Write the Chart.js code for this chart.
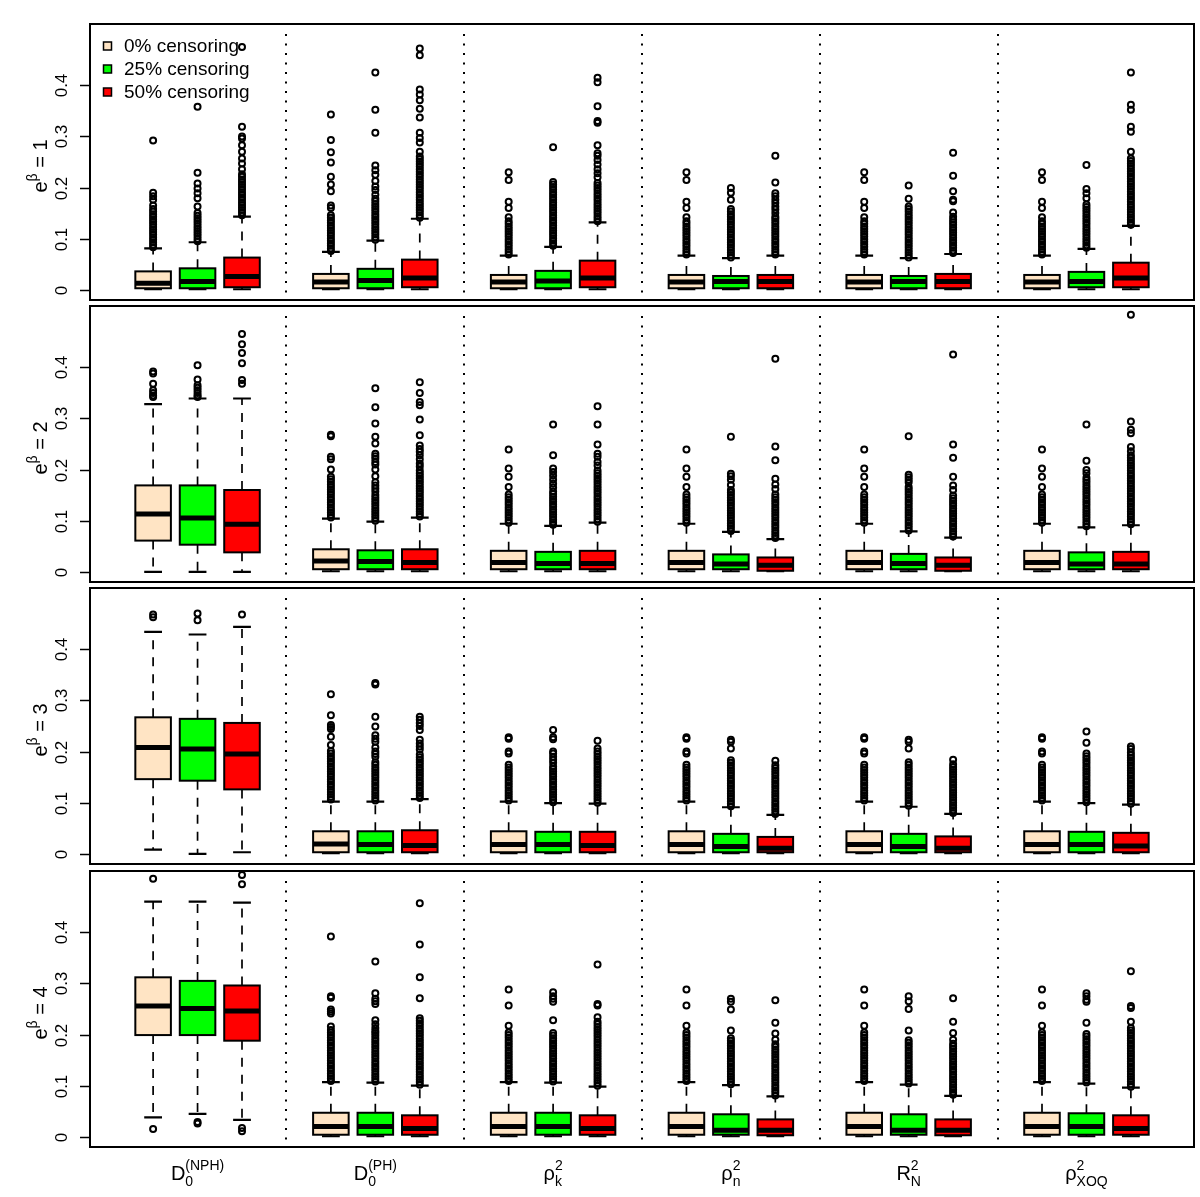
<!DOCTYPE html>
<html>
<head>
<meta charset="utf-8">
<script src="https://cdn.jsdelivr.net/npm/chart.js@4.4.1/dist/chart.umd.min.js"></script>
<style>
  html, body { margin: 0; padding: 0; background: #fff; }
  #wrap { position: relative; width: 1200px; height: 1197px; overflow: hidden; background: #fff; }
  #wrap canvas { position: absolute; left: 0; }
</style>
</head>
<body>
<div id="wrap">
  <canvas id="panel0"></canvas>
  <canvas id="panel1"></canvas>
  <canvas id="panel2"></canvas>
  <canvas id="panel3"></canvas>
</div>
<script>
// categories and series
const levels = ['0% censoring', '25% censoring', '50% censoring'];
const methodLabels = [
  { main: 'D', sub: '0', sup: '(NPH)' },
  { main: 'D', sub: '0', sup: '(PH)' },
  { main: 'ρ', sub: 'k', sup: '2' },
  { main: 'ρ', sub: 'n', sup: '2' },
  { main: 'R', sub: 'N', sup: '2' },
  { main: 'ρ', sub: 'XOQ', sup: '2' }
];
const panelValues = ['1', '2', '3', '4'];   // e^beta of each panel
const positions = [1, 2, 3, 5, 6, 7, 9, 10, 11, 13, 14, 15, 17, 18, 19, 21, 22, 23];
const separators = [4, 8, 12, 16, 20];
const yTicks = [0, 0.1, 0.2, 0.3, 0.4];
const yTickLabels = ['0', '0.1', '0.2', '0.3', '0.4'];

// boxes: [lower whisker, Q1, median, Q3, upper whisker]
// e^beta = 1
const same0_1 = [0.069,0.074,0.079,0.084,0.089,0.094,0.099,0.104,0.109,0.114,0.119,0.124,0.129,0.134,0.142,0.16,0.172,0.215,0.23];
const boxes1 = [
  [0.001,0.003,0.013,0.036,0.081],[0.001,0.003,0.016,0.042,0.093],[0.001,0.005,0.026,0.063,0.143],
  [0.001,0.003,0.015,0.031,0.074],[0.001,0.003,0.018,0.041,0.096],[0.001,0.005,0.023,0.059,0.139],
  [0.001,0.003,0.015,0.029,0.067],[0.001,0.003,0.017,0.037,0.084],[0.001,0.005,0.023,0.057,0.132],
  [0.001,0.003,0.015,0.029,0.067],[0.001,0.003,0.016,0.027,0.062],[0.001,0.003,0.016,0.029,0.067],
  [0.001,0.003,0.015,0.029,0.067],[0.001,0.003,0.016,0.027,0.062],[0.001,0.003,0.016,0.031,0.070],
  [0.001,0.003,0.015,0.029,0.067],[0.001,0.005,0.016,0.035,0.080],[0.001,0.005,0.023,0.053,0.125]
];
const outliers1 = [
  [0.083,0.088,0.093,0.098,0.103,0.108,0.113,0.118,0.123,0.128,0.133,0.138,0.143,0.148,0.153,0.158,0.165,0.176,0.183,0.19,0.292],
  [0.095,0.1,0.105,0.11,0.115,0.12,0.125,0.13,0.135,0.14,0.145,0.15,0.163,0.179,0.189,0.198,0.208,0.229,0.358],
  [0.146,0.151,0.156,0.161,0.166,0.171,0.176,0.181,0.186,0.191,0.196,0.201,0.206,0.211,0.216,0.221,0.226,0.236,0.247,0.257,0.27,0.283,0.296,0.3,0.319,0.475],
  [0.076,0.081,0.086,0.091,0.096,0.101,0.106,0.111,0.116,0.121,0.126,0.131,0.136,0.141,0.146,0.16,0.165,0.193,0.206,0.221,0.249,0.269,0.293,0.343],
  [0.098,0.103,0.108,0.113,0.118,0.123,0.128,0.133,0.138,0.143,0.148,0.153,0.158,0.163,0.168,0.173,0.178,0.186,0.195,0.202,0.213,0.225,0.234,0.243,0.307,0.352,0.425],
  [0.141,0.146,0.151,0.156,0.161,0.166,0.171,0.176,0.181,0.186,0.191,0.196,0.201,0.206,0.211,0.216,0.221,0.226,0.231,0.236,0.241,0.246,0.251,0.256,0.261,0.27,0.288,0.297,0.307,0.337,0.354,0.371,0.382,0.392,0.459,0.472],
  same0_1,
  [0.086,0.091,0.096,0.101,0.106,0.111,0.116,0.121,0.126,0.131,0.136,0.141,0.146,0.151,0.156,0.161,0.166,0.171,0.176,0.181,0.186,0.191,0.196,0.201,0.206,0.211,0.279],
  [0.134,0.139,0.144,0.149,0.154,0.159,0.164,0.169,0.174,0.179,0.184,0.189,0.194,0.199,0.204,0.209,0.22,0.228,0.236,0.245,0.254,0.262,0.267,0.283,0.327,0.33,0.359,0.406,0.415],
  same0_1,
  [0.063,0.068,0.073,0.078,0.083,0.088,0.093,0.098,0.103,0.108,0.113,0.118,0.123,0.128,0.133,0.138,0.143,0.148,0.153,0.158,0.176,0.19,0.199],
  [0.069,0.074,0.079,0.084,0.089,0.094,0.099,0.104,0.109,0.114,0.119,0.124,0.129,0.134,0.139,0.143,0.15,0.157,0.163,0.17,0.176,0.183,0.189,0.21,0.262],
  same0_1,
  [0.063,0.068,0.073,0.078,0.083,0.088,0.093,0.098,0.103,0.108,0.113,0.118,0.123,0.128,0.133,0.138,0.143,0.148,0.153,0.158,0.163,0.178,0.204],
  [0.072,0.077,0.082,0.087,0.092,0.097,0.102,0.107,0.112,0.117,0.122,0.127,0.132,0.137,0.143,0.151,0.173,0.176,0.193,0.223,0.268],
  same0_1,
  [0.082,0.087,0.092,0.097,0.102,0.107,0.112,0.117,0.122,0.127,0.132,0.137,0.142,0.147,0.152,0.157,0.162,0.167,0.179,0.189,0.197,0.244],
  [0.127,0.132,0.137,0.142,0.147,0.152,0.157,0.162,0.167,0.172,0.177,0.182,0.187,0.192,0.197,0.202,0.207,0.212,0.217,0.222,0.227,0.232,0.237,0.242,0.247,0.252,0.257,0.27,0.309,0.319,0.352,0.362,0.425]
];

// e^beta = 2
const same0_2 = [0.096,0.101,0.106,0.111,0.116,0.121,0.126,0.131,0.136,0.141,0.146,0.151,0.166,0.186,0.202,0.239];
const boxes2 = [
  [0.0,0.061,0.113,0.169,0.328],[0.0,0.053,0.105,0.169,0.339],[0.0,0.038,0.093,0.16,0.339],
  [0.001,0.005,0.021,0.044,0.104],[0.001,0.005,0.02,0.042,0.098],[0.001,0.005,0.018,0.044,0.106],
  [0.001,0.005,0.018,0.041,0.094],[0.001,0.005,0.016,0.039,0.09],[0.001,0.005,0.016,0.041,0.096],
  [0.001,0.005,0.018,0.041,0.094],[0.001,0.005,0.015,0.034,0.078],[0.001,0.002,0.013,0.028,0.064],
  [0.001,0.005,0.018,0.041,0.094],[0.001,0.005,0.016,0.035,0.079],[0.001,0.002,0.013,0.028,0.067],
  [0.001,0.005,0.018,0.041,0.094],[0.001,0.005,0.015,0.038,0.087],[0.001,0.005,0.015,0.039,0.091]
];
const outliers2 = [
  [0.342,0.345,0.35,0.355,0.368,0.388,0.392],
  [0.342,0.345,0.35,0.355,0.36,0.365,0.376,0.404],
  [0.368,0.375,0.408,0.428,0.445,0.465],
  [0.106,0.111,0.116,0.121,0.126,0.131,0.136,0.141,0.146,0.151,0.156,0.161,0.166,0.171,0.176,0.181,0.186,0.2,0.22,0.225,0.265,0.268],
  [0.1,0.105,0.11,0.115,0.12,0.125,0.13,0.135,0.14,0.145,0.15,0.157,0.163,0.169,0.175,0.187,0.2,0.21,0.215,0.221,0.226,0.231,0.251,0.264,0.29,0.322,0.359],
  [0.108,0.113,0.118,0.123,0.128,0.133,0.138,0.143,0.148,0.153,0.158,0.163,0.168,0.173,0.178,0.183,0.188,0.193,0.198,0.206,0.212,0.22,0.228,0.235,0.24,0.247,0.267,0.298,0.326,0.332,0.35,0.371],
  same0_2,
  [0.092,0.097,0.102,0.107,0.112,0.117,0.122,0.127,0.132,0.137,0.142,0.147,0.152,0.157,0.165,0.172,0.18,0.188,0.195,0.202,0.228,0.288],
  [0.098,0.103,0.108,0.113,0.118,0.123,0.128,0.133,0.138,0.143,0.148,0.153,0.158,0.163,0.168,0.173,0.178,0.183,0.188,0.193,0.198,0.208,0.215,0.225,0.231,0.249,0.288,0.324],
  same0_2,
  [0.08,0.085,0.09,0.095,0.1,0.105,0.11,0.115,0.12,0.125,0.13,0.135,0.14,0.145,0.15,0.155,0.16,0.17,0.18,0.187,0.192,0.264],
  [0.066,0.071,0.076,0.081,0.086,0.091,0.096,0.101,0.106,0.111,0.116,0.121,0.126,0.131,0.136,0.141,0.146,0.151,0.162,0.171,0.182,0.218,0.245,0.417],
  same0_2,
  [0.081,0.086,0.091,0.096,0.101,0.106,0.111,0.116,0.121,0.126,0.131,0.136,0.141,0.146,0.151,0.156,0.161,0.166,0.175,0.18,0.185,0.19,0.265],
  [0.069,0.074,0.079,0.084,0.089,0.094,0.099,0.104,0.109,0.114,0.119,0.124,0.129,0.134,0.139,0.144,0.149,0.16,0.169,0.186,0.223,0.249,0.425],
  same0_2,
  [0.089,0.094,0.099,0.104,0.109,0.114,0.119,0.124,0.129,0.134,0.139,0.144,0.149,0.154,0.159,0.164,0.169,0.174,0.179,0.184,0.193,0.199,0.217,0.288],
  [0.093,0.098,0.103,0.108,0.113,0.118,0.123,0.128,0.133,0.138,0.143,0.148,0.153,0.158,0.163,0.168,0.173,0.178,0.183,0.188,0.193,0.198,0.203,0.208,0.213,0.218,0.223,0.228,0.236,0.244,0.271,0.278,0.294,0.503]
];

// e^beta = 3
const same0_3 = [0.104,0.109,0.114,0.119,0.124,0.129,0.134,0.139,0.144,0.149,0.154,0.159,0.164,0.169,0.174,0.196,0.2,0.225,0.228];
const boxes3 = [
  [0.008,0.146,0.208,0.267,0.434],[0.0,0.143,0.205,0.264,0.429],[0.003,0.126,0.195,0.256,0.444],
  [0.001,0.003,0.019,0.044,0.102],[0.001,0.003,0.018,0.044,0.102],[0.001,0.003,0.016,0.046,0.107],
  [0.001,0.003,0.018,0.044,0.102],[0.001,0.003,0.018,0.043,0.099],[0.001,0.003,0.016,0.043,0.098],
  [0.001,0.003,0.018,0.044,0.102],[0.001,0.003,0.014,0.039,0.091],[0.001,0.003,0.011,0.033,0.076],
  [0.001,0.003,0.018,0.044,0.102],[0.001,0.003,0.014,0.039,0.092],[0.001,0.003,0.011,0.034,0.078],
  [0.001,0.003,0.018,0.044,0.102],[0.001,0.003,0.018,0.043,0.099],[0.001,0.003,0.015,0.041,0.096]
];
const outliers3 = [
  [0.463,0.468],
  [0.457,0.47],
  [0.468],
  [0.106,0.111,0.116,0.121,0.126,0.131,0.136,0.141,0.146,0.151,0.156,0.161,0.166,0.171,0.176,0.181,0.186,0.191,0.196,0.201,0.213,0.229,0.244,0.248,0.252,0.271,0.312],
  [0.104,0.109,0.114,0.119,0.124,0.129,0.134,0.139,0.144,0.149,0.154,0.159,0.164,0.169,0.174,0.179,0.19,0.195,0.2,0.208,0.219,0.225,0.232,0.249,0.268,0.331,0.334],
  [0.109,0.114,0.119,0.124,0.129,0.134,0.139,0.144,0.149,0.154,0.159,0.164,0.169,0.174,0.179,0.184,0.189,0.194,0.204,0.21,0.216,0.223,0.242,0.25,0.256,0.262,0.268],
  same0_3,
  [0.101,0.106,0.111,0.116,0.121,0.126,0.131,0.136,0.141,0.146,0.151,0.156,0.161,0.166,0.171,0.178,0.184,0.19,0.196,0.2,0.224,0.228,0.242],
  [0.1,0.105,0.11,0.115,0.12,0.125,0.13,0.135,0.14,0.145,0.15,0.155,0.16,0.165,0.17,0.175,0.18,0.185,0.19,0.195,0.2,0.206,0.221],
  same0_3,
  [0.093,0.098,0.103,0.108,0.113,0.118,0.123,0.128,0.133,0.138,0.143,0.148,0.153,0.158,0.163,0.168,0.173,0.178,0.183,0.206,0.219,0.223],
  [0.078,0.083,0.088,0.093,0.098,0.103,0.108,0.113,0.118,0.123,0.128,0.133,0.138,0.143,0.148,0.153,0.158,0.163,0.168,0.173,0.182],
  same0_3,
  [0.094,0.099,0.104,0.109,0.114,0.119,0.124,0.129,0.134,0.139,0.144,0.149,0.154,0.159,0.164,0.169,0.174,0.179,0.206,0.219,0.223],
  [0.08,0.085,0.09,0.095,0.1,0.105,0.11,0.115,0.12,0.125,0.13,0.135,0.14,0.145,0.15,0.155,0.16,0.165,0.17,0.175,0.184],
  same0_3,
  [0.101,0.106,0.111,0.116,0.121,0.126,0.131,0.136,0.141,0.146,0.151,0.156,0.161,0.166,0.171,0.176,0.181,0.186,0.191,0.196,0.217,0.239],
  [0.098,0.103,0.108,0.113,0.118,0.123,0.128,0.133,0.138,0.143,0.148,0.153,0.158,0.163,0.168,0.173,0.178,0.183,0.188,0.193,0.198,0.205,0.21]
];

// e^beta = 4
const same0_4 = [0.109,0.114,0.119,0.124,0.129,0.134,0.139,0.144,0.149,0.154,0.159,0.164,0.169,0.174,0.179,0.184,0.189,0.194,0.199,0.204,0.217,0.257,0.288];
const boxes4 = [
  [0.038,0.199,0.256,0.312,0.46],[0.045,0.199,0.251,0.305,0.46],[0.033,0.188,0.246,0.296,0.458],
  [0.001,0.004,0.02,0.047,0.107],[0.001,0.004,0.02,0.047,0.106],[0.001,0.004,0.016,0.042,0.1],
  [0.001,0.004,0.02,0.047,0.107],[0.001,0.004,0.02,0.047,0.106],[0.001,0.004,0.016,0.042,0.098],
  [0.001,0.004,0.02,0.047,0.107],[0.001,0.004,0.013,0.044,0.101],[0.001,0.003,0.013,0.034,0.079],
  [0.001,0.004,0.02,0.047,0.107],[0.001,0.004,0.013,0.044,0.102],[0.001,0.003,0.013,0.034,0.08],
  [0.001,0.004,0.02,0.047,0.107],[0.001,0.004,0.02,0.046,0.104],[0.001,0.004,0.016,0.042,0.096]
];
const outliers4 = [
  [0.015,0.505],
  [0.026,0.029],
  [0.011,0.017,0.494,0.512],
  [0.109,0.114,0.119,0.124,0.129,0.134,0.139,0.144,0.149,0.154,0.159,0.164,0.169,0.174,0.179,0.184,0.189,0.194,0.199,0.204,0.209,0.216,0.241,0.245,0.249,0.272,0.275,0.392],
  [0.108,0.113,0.118,0.123,0.128,0.133,0.138,0.143,0.148,0.153,0.158,0.163,0.168,0.173,0.178,0.183,0.188,0.193,0.198,0.203,0.207,0.213,0.22,0.228,0.26,0.265,0.27,0.281,0.343],
  [0.102,0.107,0.112,0.117,0.122,0.127,0.132,0.137,0.142,0.147,0.152,0.157,0.162,0.167,0.172,0.177,0.182,0.187,0.192,0.197,0.202,0.207,0.212,0.217,0.222,0.227,0.232,0.271,0.312,0.376,0.457],
  same0_4,
  [0.108,0.113,0.118,0.123,0.128,0.133,0.138,0.143,0.148,0.153,0.158,0.163,0.168,0.173,0.178,0.183,0.188,0.193,0.198,0.203,0.228,0.264,0.27,0.275,0.283],
  [0.1,0.105,0.11,0.115,0.12,0.125,0.13,0.135,0.14,0.145,0.15,0.155,0.16,0.165,0.17,0.175,0.18,0.185,0.19,0.195,0.2,0.205,0.21,0.215,0.22,0.225,0.234,0.257,0.26,0.337],
  same0_4,
  [0.103,0.108,0.113,0.118,0.123,0.128,0.133,0.138,0.143,0.148,0.153,0.158,0.163,0.168,0.173,0.178,0.183,0.188,0.193,0.208,0.249,0.264,0.27],
  [0.081,0.086,0.091,0.096,0.101,0.106,0.111,0.116,0.121,0.126,0.131,0.136,0.141,0.146,0.151,0.156,0.161,0.166,0.171,0.176,0.181,0.19,0.202,0.223,0.267],
  same0_4,
  [0.104,0.109,0.114,0.119,0.124,0.129,0.134,0.139,0.144,0.149,0.154,0.159,0.164,0.169,0.174,0.179,0.184,0.189,0.208,0.25,0.265,0.275],
  [0.082,0.087,0.092,0.097,0.102,0.107,0.112,0.117,0.122,0.127,0.132,0.137,0.142,0.147,0.152,0.157,0.162,0.167,0.172,0.177,0.182,0.19,0.203,0.225,0.271],
  same0_4,
  [0.106,0.111,0.116,0.121,0.126,0.131,0.136,0.141,0.146,0.151,0.156,0.161,0.166,0.171,0.176,0.181,0.186,0.191,0.196,0.201,0.223,0.264,0.268,0.275,0.281],
  [0.098,0.103,0.108,0.113,0.118,0.123,0.128,0.133,0.138,0.143,0.148,0.153,0.158,0.163,0.168,0.173,0.178,0.183,0.188,0.193,0.198,0.203,0.208,0.213,0.225,0.252,0.256,0.324]
];

// look
const levelColors = ['#FFE4C4', '#00FF00', '#FF0000'];
const fontFamily = '"Liberation Sans", Arial, Helvetica, sans-serif';
const boxWidth = 0.8;
const panelTops = [24, 306, 588, 871];
const plotHeight = 276;

// sub/superscript label, centred on cx
function drawMath(ctx, cx, baseY, m, size) {
  ctx.font = size + 'px ' + fontFamily;
  const wMain = ctx.measureText(m.main).width;
  const small = Math.round(size * 0.7) + 'px ' + fontFamily;
  ctx.font = small;
  const wSub = ctx.measureText(m.sub).width;
  const wSup = ctx.measureText(m.sup).width;
  const total = wMain + Math.max(wSub, wSup);
  const x0 = cx - total / 2;
  ctx.textAlign = 'left';
  ctx.textBaseline = 'alphabetic';
  ctx.font = size + 'px ' + fontFamily;
  ctx.fillText(m.main, x0, baseY);
  ctx.font = small;
  ctx.fillText(m.sub, x0 + wMain, baseY + size * 0.28);
  ctx.fillText(m.sup, x0 + wMain, baseY - size * 0.5);
}

const boxplotPlugin = {
  id: 'boxplot',
  beforeDatasetsDraw(chart, args, opts) {
    const { ctx, chartArea: a, scales: { x, y } } = chart;
    ctx.save();
    ctx.strokeStyle = '#000';
    // dotted lines between the methods
    ctx.lineWidth = 2;
    ctx.setLineDash([2, 7.5]);
    separators.forEach(s => {
      const px = Math.round(x.getPixelForValue(s));
      ctx.beginPath();
      ctx.moveTo(px, a.top + 10);
      ctx.lineTo(px, a.bottom - 4);
      ctx.stroke();
    });
    opts.stats.forEach((s, i) => {
      const [lo, q1, med, q3, hi] = s;
      const cx = x.getPixelForValue(positions[i]);
      const hw = x.getPixelForValue(positions[i] + boxWidth / 2) - cx;
      const cw = hw * 0.5;
      // dashed whiskers
      ctx.lineWidth = 1.7;
      ctx.setLineDash([9, 8]);
      ctx.beginPath();
      ctx.moveTo(cx, y.getPixelForValue(q3));
      ctx.lineTo(cx, y.getPixelForValue(hi));
      ctx.moveTo(cx, y.getPixelForValue(q1));
      ctx.lineTo(cx, y.getPixelForValue(lo));
      ctx.stroke();
      ctx.setLineDash([]);
      ctx.lineWidth = 2.2;
      ctx.beginPath();
      [lo, hi].forEach(v => {
        const py = y.getPixelForValue(v);
        ctx.moveTo(cx - cw, py);
        ctx.lineTo(cx + cw, py);
      });
      ctx.stroke();
      // box
      const top = y.getPixelForValue(q3);
      const bot = y.getPixelForValue(q1);
      ctx.fillStyle = levelColors[i % 3];
      ctx.fillRect(cx - hw, top, 2 * hw, bot - top);
      ctx.lineWidth = 2;
      ctx.strokeRect(cx - hw, top, 2 * hw, bot - top);
      // median
      ctx.lineWidth = 5;
      ctx.beginPath();
      const pm = y.getPixelForValue(med);
      ctx.moveTo(cx - hw, pm);
      ctx.lineTo(cx + hw, pm);
      ctx.stroke();
    });
    ctx.restore();
  },
  afterDraw(chart, args, opts) {
    const { ctx, chartArea: a, scales: { x, y } } = chart;
    ctx.save();
    ctx.strokeStyle = '#000';
    ctx.fillStyle = '#000';
    ctx.lineWidth = 2;
    ctx.strokeRect(a.left, a.top, a.right - a.left, a.bottom - a.top);

    // y axis, labels turned like R
    ctx.lineWidth = 1.5;
    ctx.font = '17px ' + fontFamily;
    ctx.textAlign = 'center';
    ctx.textBaseline = 'alphabetic';
    yTicks.forEach((t, k) => {
      const py = Math.round(y.getPixelForValue(t)) + 0.5;
      ctx.beginPath();
      ctx.moveTo(a.left - 10, py);
      ctx.lineTo(a.left, py);
      ctx.stroke();
      ctx.save();
      ctx.translate(a.left - 23, py);
      ctx.rotate(-Math.PI / 2);
      ctx.fillText(yTickLabels[k], 0, 0);
      ctx.restore();
    });

    // e^beta = n
    const big = '20px ' + fontFamily;
    const small = '14px ' + fontFamily;
    ctx.font = big;
    const wE = ctx.measureText('e').width;
    const rest = ' = ' + opts.value;
    const wRest = ctx.measureText(rest).width;
    ctx.font = small;
    const wB = ctx.measureText('β').width;
    const total = wE + wB + wRest;
    ctx.save();
    ctx.translate(47, (a.top + a.bottom) / 2 + 4);
    ctx.rotate(-Math.PI / 2);
    ctx.textAlign = 'left';
    let px = -total / 2;
    ctx.font = big;
    ctx.fillText('e', px, 0);
    px += wE;
    ctx.font = small;
    ctx.fillText('β', px, -10);
    px += wB;
    ctx.font = big;
    ctx.fillText(rest, px, 0);
    ctx.restore();

    // legend
    if (opts.legend) {
      ctx.font = '19px ' + fontFamily;
      ctx.textAlign = 'left';
      ctx.textBaseline = 'middle';
      ctx.lineWidth = 1.5;
      levels.forEach((lv, k) => {
        const cy = a.top + 22 + 23 * k;
        ctx.fillStyle = levelColors[k];
        ctx.fillRect(103.5, cy - 4, 8, 8);
        ctx.strokeRect(103.5, cy - 4, 8, 8);
        ctx.fillStyle = '#000';
        ctx.fillText(lv, 124, cy + 1);
      });
    }

    // method names under the last panel
    if (opts.xLabels) {
      methodLabels.forEach((m, g) => {
        const cx = x.getPixelForValue(positions[3 * g + 1]);
        drawMath(ctx, cx, a.bottom + 33, m, 20);
      });
    }
    ctx.restore();
  }
};

function makePanel(idx, boxes, outliers) {
  const canvas = document.getElementById('panel' + idx);
  const last = idx === panelTops.length - 1;
  const bottomExtra = last ? 1197 - (panelTops[idx] + plotHeight) : 6;
  canvas.width = 1200;
  canvas.height = 24 + plotHeight + bottomExtra;
  canvas.style.top = (panelTops[idx] - 24) + 'px';

  const datasets = levels.map((lv, k) => ({
    label: lv,
    data: outliers.flatMap((vals, i) => (i % 3 === k ? vals.map(v => ({ x: positions[i], y: v })) : [])),
    pointStyle: 'circle',
    pointRadius: 3,
    pointBorderWidth: 2,
    pointBorderColor: '#000',
    pointBackgroundColor: 'rgba(0,0,0,0)',
    showLine: false
  }));

  return new Chart(canvas, {
    type: 'scatter',
    data: { datasets },
    options: {
      responsive: false,
      animation: false,
      devicePixelRatio: 1,
      events: [],
      layout: { padding: { left: 90, right: 5, top: 24, bottom: bottomExtra } },
      plugins: {
        legend: { display: false },
        tooltip: { enabled: false },
        boxplot: { stats: boxes, value: panelValues[idx], legend: idx === 0, xLabels: last }
      },
      scales: {
        x: { type: 'linear', min: -0.42, max: 24.42, display: false },
        y: { type: 'linear', min: -0.02, max: 0.52, display: false }
      }
    },
    plugins: [boxplotPlugin]
  });
}

makePanel(0, boxes1, outliers1);
makePanel(1, boxes2, outliers2);
makePanel(2, boxes3, outliers3);
makePanel(3, boxes4, outliers4);
</script>
</body>
</html>
